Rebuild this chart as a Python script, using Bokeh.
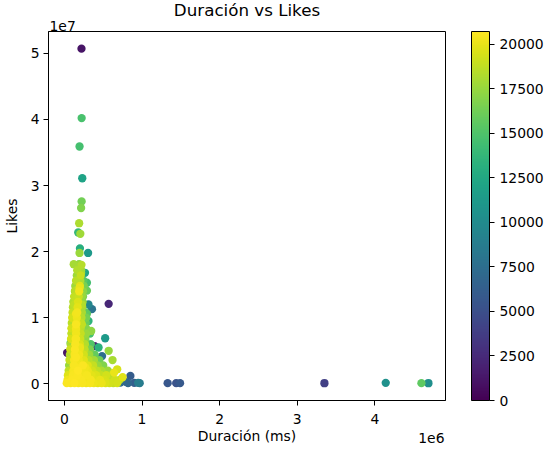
from bokeh.plotting import figure
from bokeh.models import (ColumnDataSource, LinearColorMapper, ColorBar, FixedTicker,
                          Range1d, Label)
from bokeh.palettes import Viridis256
from bokeh.embed import file_html
from bokeh.resources import INLINE

# ---- data (duration ms, likes, row index used as colour) ----
out_dur = [220000, 222000, 195000, 230000, 222000, 215000, 190000, 178000, 205000, 200000,
           305000, 195000, 120000, 190000, 265000, 215000, 290000, 195000, 140000, 290000,
           225000, 570000, 130000, 225000, 310000, 355000, 150000, 290000, 310000, 150000,
           225000, 345000, 150000, 525000, 150000, 80000, 390000, 440000, 570000, 35000,
           200000, 310000, 485000, 620000, 150000, 80000, 440000, 680000, 525000, 150000,
           270000, 640000, 750000, 850000, 790000, 900000, 970000, 1330000, 1440000, 1490000,
           3350000, 4140000, 4600000, 4690000, 720000, 820000, 950000]
out_likes = [50700000, 40200000, 35900000, 31100000, 27600000, 26600000, 24300000, 22900000, 22700000, 20500000,
             19800000, 19800000, 18100000, 18100000, 16800000, 16800000, 15300000, 14500000, 14100000, 14100000,
             13300000, 12100000, 12000000, 12000000, 12000000, 11300000, 10600000, 10600000, 9500000, 9000000,
             9000000, 8000000, 8200000, 6900000, 6800000, 6200000, 5700000, 5500000, 5000000, 4700000,
             5500000, 4700000, 4200000, 3600000, 4000000, 3200000, 3200000, 2200000, 2000000, 2500000,
             2500000, 1700000, 1000000, 1200000, 300000, 150000, 100000, 100000, 100000, 100000,
             100000, 150000, 100000, 100000, 200000, 100000, 150000]
out_idx = [1100, 14800, 14600, 12000, 16300, 16800, 18200, 13800, 17800, 13000,
           11200, 17600, 17900, 17000, 12300, 18000, 14500, 20000, 18500, 16000,
           17500, 2300, 18700, 18300, 9500, 8000, 20300, 15500, 13500, 20500,
           18800, 17300, 20200, 11300, 20400, 15000, 2000, 13200, 17500, 1200,
           20100, 15800, 7500, 18000, 20600, 13800, 10800, 19500, 14500, 20500,
           20300, 20000, 19800, 6000, 6500, 6200, 8500, 5600, 5300, 5800,
           3900, 10500, 15600, 10300, 7200, 6800, 8900]

core_dur = [30000, 80000, 130000, 180000, 230000, 280000, 330000, 380000, 430000, 480000, 530000, 580000, 630000, 680000,
            40000, 100000, 160000, 220000, 280000, 340000, 400000, 460000, 520000, 580000, 650000, 710000,
            45000, 110000, 170000, 230000, 290000, 350000, 410000, 470000, 540000, 600000,
            55000, 115000, 175000, 235000, 300000, 360000, 420000, 480000, 560000,
            60000, 120000, 180000, 240000, 300000, 370000, 430000, 500000,
            65000, 125000, 185000, 250000, 310000, 380000, 450000,
            70000, 130000, 190000, 250000, 320000, 390000,
            75000, 135000, 195000, 260000, 330000,
            80000, 140000, 200000, 265000, 340000,
            85000, 145000, 205000, 270000,
            90000, 150000, 210000, 280000, 330000,
            90000, 150000, 210000, 280000,
            95000, 155000, 215000, 275000,
            100000, 160000, 220000, 280000,
            105000, 165000, 225000, 270000,
            110000, 170000, 230000,
            115000, 175000, 235000,
            125000, 185000, 240000,
            135000, 190000, 240000,
            140000, 200000, 250000,
            150000, 205000, 245000,
            160000, 210000,
            165000, 215000,
            175000, 220000]
core_likes = [100000] * 14 + [600000] * 12 + [1300000] * 10 + [2000000] * 9 + [2800000] * 8 \
    + [3600000] * 7 + [4400000] * 6 + [5200000] * 5 + [6000000] * 5 + [6800000] * 4 \
    + [7600000] * 5 + [8400000] * 4 + [9200000] * 4 + [10000000] * 4 + [10800000] * 4 \
    + [11600000] * 3 + [12400000] * 3 + [13200000] * 3 + [14000000] * 3 + [14800000] * 3 \
    + [15600000] * 3 + [16400000] * 2 + [17200000] * 2 + [18000000] * 2
core_idx = [20600, 20500, 20650, 20400, 20550, 20300, 20450, 20200, 19900, 20100, 19600, 19300, 18900, 19400,
            20300, 20600, 20450, 20550, 20200, 20400, 19800, 20000, 19500, 18800, 19200, 18600,
            19700, 20500, 20600, 20350, 20450, 19900, 19600, 18900, 19300, 18500,
            18800, 20400, 20650, 20300, 20100, 19400, 18700, 18200, 17800,
            17600, 20500, 20350, 20600, 19700, 18900, 17400, 16800,
            19000, 20450, 20200, 19800, 18600, 17900, 16200,
            18400, 20550, 20300, 19300, 17700, 15800,
            19200, 20600, 20000, 18700, 16600,
            18200, 20500, 19600, 18300, 15200,
            19500, 20400, 19100, 17200,
            18700, 20300, 18900, 17600, 14800,
            19300, 20250, 18500, 16900,
            18600, 20100, 18800, 15900,
            19400, 20200, 18400, 16400,
            18900, 20350, 18100, 15600,
            18500, 19900, 17900,
            18300, 19600, 17300,
            18800, 19000, 16700,
            18100, 20300, 17100,
            17800, 19800, 16500,
            18600, 18200, 15400,
            17700, 18900,
            18300, 17600,
            17500, 18400]

x_ticks = [0, 1000000, 2000000, 3000000, 4000000]
x_tick_labels = ["0", "1", "2", "3", "4"]
y_ticks = [0, 10000000, 20000000, 30000000, 40000000, 50000000]
y_tick_labels = ["0", "1", "2", "3", "4", "5"]
cb_ticks = [0, 2500, 5000, 7500, 10000, 12500, 15000, 17500, 20000]

rows = sorted(zip(out_dur + core_dur, out_likes + core_likes, out_idx + core_idx), key=lambda r: r[2])
src = ColumnDataSource(dict(dur=[r[0] for r in rows], likes=[r[1] for r in rows], idx=[r[2] for r in rows]))

FONT = "DejaVu Sans"
FS = "13.9px"

mapper = LinearColorMapper(palette=Viridis256, low=0, high=20717)

p = figure(frame_width=397, frame_height=369, output_backend="svg", toolbar_location=None,
           x_range=Range1d(-205000, 4910000), y_range=Range1d(-2520000, 53300000),
           min_border_left=40, min_border_right=99, min_border_top=22, min_border_bottom=45,
           title="Duración vs Likes")
p.title.align = "center"
p.title.vertical_align = "top"
p.title.text_font = FONT
p.title.text_font_size = "16.7px"
p.title.text_font_style = "normal"
p.title.text_color = "black"
p.title.standoff = -1.5

p.scatter("dur", "likes", source=src, size=8.3, line_color=None,
          fill_color={"field": "idx", "transform": mapper})

p.xgrid.visible = False
p.ygrid.visible = False
p.outline_line_color = "black"
p.outline_line_width = 1
p.background_fill_color = "white"

for ax, ticks, labels in ((p.xaxis[0], x_ticks, x_tick_labels), (p.yaxis[0], y_ticks, y_tick_labels)):
    ax.ticker = FixedTicker(ticks=ticks)
    ax.major_label_overrides = {t: l for t, l in zip(ticks, labels)}
    ax.minor_tick_line_color = None
    ax.major_tick_in = 0
    ax.major_tick_out = 5
    ax.axis_line_color = "black"
    ax.major_tick_line_color = "black"
    ax.major_label_text_font = FONT
    ax.major_label_text_font_size = FS
    ax.major_label_text_color = "black"
    ax.axis_label_text_font = FONT
    ax.axis_label_text_font_size = FS
    ax.axis_label_text_font_style = "normal"
    ax.axis_label_text_color = "black"

p.xaxis.major_label_standoff = 8
p.xaxis.axis_label_standoff = 1
p.yaxis.major_label_standoff = 4
p.yaxis.axis_label_standoff = 8

p.xaxis.axis_label = "Duración (ms)"
p.yaxis.axis_label = "Likes"

# offset texts of the two axes
p.add_layout(Label(x=1, y=6, x_units="screen", y_units="screen", text="1e7",
                   text_font=FONT, text_font_size=FS, text_color="black",
                   text_baseline="alphabetic", text_align="left"), "above")
p.add_layout(Label(x=-1, y=-37, x_units="screen", y_units="screen", text="1e6",
                   text_font=FONT, text_font_size=FS, text_color="black",
                   text_baseline="alphabetic", text_align="right"), "right")

cb = ColorBar(color_mapper=mapper, ticker=FixedTicker(ticks=cb_ticks), width=18, height=369,
              location="top_left", padding=0, margin=0, label_standoff=5,
              major_tick_in=0, major_tick_out=5,
              major_tick_line_color="black", bar_line_color="black",
              major_label_text_font=FONT, major_label_text_font_size=FS,
              major_label_text_color="black",
              border_line_color=None, background_fill_color=None)
p.add_layout(cb, "right")

open("out.html", "w").write(file_html(p, INLINE))
